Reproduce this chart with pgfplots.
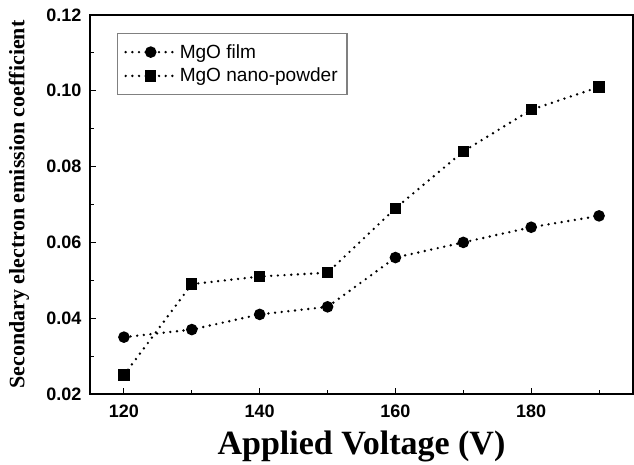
\documentclass[border=0pt]{standalone}
\usepackage{pgfplots}
\pgfplotsset{compat=1.18}
\usepackage{fontspec}
\setmainfont{Liberation Sans}
\newfontfamily\serifb{Liberation Serif}
\begin{document}
\begin{tikzpicture}[x=0.75pt,y=0.75pt]
\useasboundingbox (0,0) rectangle (634,464);
\begin{axis}[
  at={(90pt*0.75,70pt*0.75)}, anchor=south west,
  scale only axis, width=543*0.75pt, height=379*0.75pt,
  xmin=115, xmax=195, ymin=0.02, ymax=0.12,
  xtick={120,140,160,180}, minor xtick={130,150,170,190},
  ytick={0.02,0.04,0.06,0.08,0.10,0.12}, minor ytick={0.03,0.05,0.07,0.09,0.11},
  yticklabels={0.02,0.04,0.06,0.08,0.10,0.12},
  tick align=inside, xtick pos=bottom, ytick pos=left,
  major tick length=4.5pt, minor tick length=3pt,
  tick style={black, line width=0.8pt},
  axis line style={line width=1.2pt},
  tick label style={font=\fontsize{13.5}{15}\selectfont\bfseries},
  /pgf/number format/assume math mode=true,
  xticklabel style={yshift=-5pt},
  yticklabel style={xshift=-3pt},
  xlabel={\serifb\bfseries\fontsize{25.5}{28}\selectfont Applied Voltage (V)},
  xlabel style={yshift=-3pt},
  ylabel={\serifb\bfseries\fontsize{16.5}{18}\selectfont Secondary electron emission coefficient},
  ylabel style={yshift=6pt},
  legend style={at={(0.05,0.9525)}, anchor=north west, draw=gray, line width=0.8pt,
    font=\fontsize{14.3}{16}\selectfont, inner xsep=5pt, inner ysep=6pt, row sep=2pt},
  legend cell align=left,
  legend image code/.code={\draw[mark repeat=2,mark phase=2] plot coordinates {(0cm,0cm) (0.66cm,0cm) (1.32cm,0cm)};},
  every axis plot/.append style={black, line width=2pt, line cap=round, dash pattern=on 0pt off 5pt},
]
\addplot[mark=*, mark size=3.3pt, mark options={solid}] coordinates {
(120,0.035) (130,0.037) (140,0.041) (150,0.043) (160,0.056) (170,0.060) (180,0.064) (190,0.067)};
\addlegendentry{MgO film}
\addplot[mark=square*, mark size=3.2pt, mark options={solid}] coordinates {
(120,0.025) (130,0.049) (140,0.051) (150,0.052) (160,0.069) (170,0.084) (180,0.095) (190,0.101)};
\addlegendentry{MgO nano-powder}
\end{axis}
\end{tikzpicture}
\end{document}
